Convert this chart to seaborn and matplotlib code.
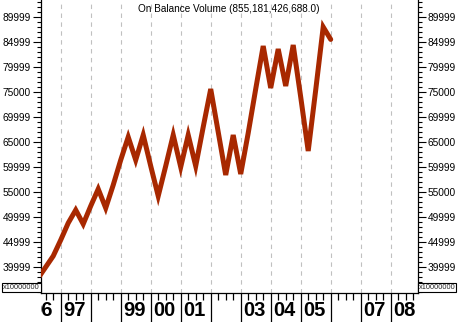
import numpy as np
import pandas as pd
import seaborn as sns
import matplotlib.pyplot as plt
from matplotlib.patches import Rectangle
from matplotlib.ticker import FixedLocator, MultipleLocator

sns.set_style("white")
plt.rcParams["font.family"] = ["Liberation Sans", "DejaVu Sans"]

# quarterly On Balance Volume, in units of 10,000,000
quarters = np.arange(1996.25, 2006.01, 0.25)
obv = [37800, 40000, 42200, 45400, 48800, 51400, 48600, 52200, 55600, 51800,
       56400, 61400, 66000, 61400, 66400, 60200, 54200, 60200, 66400, 60000,
       66400, 60200, 68000, 75600, 67000, 58400, 66400, 58600, 66800, 75600,
       84200, 75800, 83600, 76200, 84400, 74000, 63200, 75400, 88000, 85518]

ytick_vals = [40000, 45000, 50000, 55000, 60000, 65000, 70000, 75000, 80000, 85000, 90000]
ytick_labels = ["39999", "44999", "49999", "55000", "59999", "65000",
                "69999", "75000", "79999", "84999", "89999"]
year_starts = list(range(1997, 2009))
year_labels = ["96", "97", "99", "00", "01", "03", "04", "05", "07", "08"]
year_label_pos = [1996, 1997, 1999, 2000, 2001, 2003, 2004, 2005, 2007, 2008]
title = "On Balance Volume (855,181,426,688.0)"

df = pd.DataFrame({"t": quarters, "obv": obv})

fig = plt.figure(figsize=(4.58, 3.22), dpi=100)
ax = fig.add_axes([0.0889, 0.090, 0.8231, 0.910])

for yr in year_starts:
    ax.axvline(yr, color="#c0c0c0", lw=0.8, ls=(0, (4, 4)), zorder=0)

sns.lineplot(data=df, x="t", y="obv", ax=ax, color="#a82800", lw=3.6,
             solid_joinstyle="miter", zorder=3)

ax.set_xlim(1996.333, 2008.9)
ax.set_ylim(34800, 93400)
ax.set_xlabel("")
ax.set_ylabel("")

for s in ["left", "right", "bottom"]:
    ax.spines[s].set_color("black")
    ax.spines[s].set_linewidth(0.9)
ax.spines["top"].set_visible(False)

# y axis, both sides
ax.set_yticks(ytick_vals)
ax.set_yticklabels(ytick_labels)
ax.yaxis.set_minor_locator(MultipleLocator(1000))
ax.tick_params(axis="y", which="major", left=True, right=True, labelleft=True,
               labelright=True, direction="out", length=5.5, width=0.8,
               labelsize=7.3, pad=1.5, colors="black")
ax.tick_params(axis="y", which="minor", left=True, right=True, direction="out",
               length=3, width=0.8, colors="black")

# x axis: long year separators, quarterly minor ticks
ax.xaxis.set_major_locator(FixedLocator(year_starts))
ax.xaxis.set_minor_locator(FixedLocator(np.arange(1996.5, 2008.9, 0.25)))
ax.set_xticklabels([])
ax.tick_params(axis="x", which="major", bottom=True, direction="out",
               length=21, width=0.9, colors="black")
ax.tick_params(axis="x", which="minor", bottom=True, direction="out",
               length=5, width=0.9, colors="black")

# year labels sit right of the separator; the first one is cut by the axis edge
clip = Rectangle((0.0889, 0), 0.8231, 1, transform=fig.transFigure,
                 fill=False, visible=False)
fig.add_artist(clip)
for pos, lab in zip(year_label_pos, year_labels):
    off = -0.015 if lab == "96" else 0.07
    t = ax.text(pos + off, -0.028, lab, transform=ax.get_xaxis_transform(),
                ha="left", va="top", fontsize=14.5, fontweight="bold",
                color="black")
    t.set_clip_path(clip)
    t.set_clip_on(True)

# multiplier boxes
for xf in [0.006, 0.914]:
    fig.text(xf, 0.107, "x10000000", fontsize=5.3, ha="left", va="center",
             bbox=dict(boxstyle="square,pad=0.15", fc="white", ec="black", lw=0.8))

ax.text(0.5, 0.985, title, transform=ax.transAxes, ha="center", va="top",
        fontsize=7.2, color="black")

fig.savefig("out.png", dpi=100)
